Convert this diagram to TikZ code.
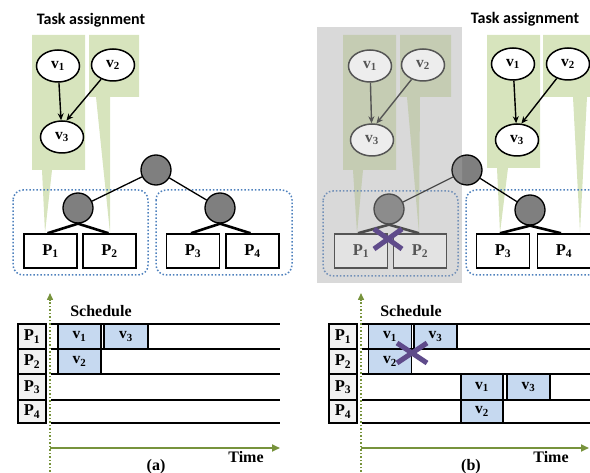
\documentclass[tikz,border=0pt]{standalone}
\usepackage{fontspec}
\setmainfont{Liberation Serif}
\newfontfamily\calib{Carlito}
\usetikzlibrary{shapes.geometric,arrows.meta}
\definecolor{cgreen}{HTML}{D7E4BD}
\definecolor{dgreen}{HTML}{C5CCB3}
\definecolor{tgray}{HTML}{7F7F7F}
\definecolor{dtgray}{HTML}{8C8C8C}
\definecolor{dblue}{HTML}{4F81BD}
\definecolor{ddblue}{HTML}{7290B8}
\definecolor{sblue}{HTML}{C6D9F0}
\definecolor{olive}{HTML}{77933C}
\definecolor{xpurple}{HTML}{5F4B8B}
\definecolor{bgshade}{HTML}{D9D9D9}
\definecolor{dimline}{HTML}{555555}
\newcommand{\myvf}{\fontsize{15.5}{17}\selectfont\bfseries}
\newcommand{\mypf}{\fontsize{16.5}{18}\selectfont\bfseries}
\newcommand{\myhf}{\fontsize{16}{18}\selectfont\bfseries}
\newcommand{\mytf}{\calib\fontsize{16}{18}\selectfont\bfseries}
\tikzset{
  task/.style={ellipse, draw, line width=1.5pt, fill=white, minimum width=43pt, minimum height=32pt, inner sep=0pt, font=\myvf},
  dtask/.style={task, draw=dimline, fill=black!7, text=dimline},
  tnode/.style={circle, draw, fill=tgray, minimum size=30pt, inner sep=0pt, line width=1.3pt},
  dtnode/.style={tnode, draw=black!70, fill=dtgray},
  pbox/.style={draw, fill=white, line width=1.5pt, minimum width=53pt, minimum height=34pt, inner sep=0pt, font=\mypf},
  dpbox/.style={pbox, draw=dimline, fill=black!11, text=dimline},
  grp/.style={draw=dblue, dotted, line width=1.5pt, rounded corners=10pt},
  dgrp/.style={grp, draw=ddblue},
  slot/.style={draw, fill=sblue, line width=1.3pt, minimum height=25pt, inner sep=0pt, font=\myvf},
  plab/.style={draw, fill=black!5, line width=1.3pt, minimum width=28pt, inner sep=0pt, font=\mypf},
  dep/.style={-{Stealth[length=7pt,width=6pt]}, line width=1.4pt},
  ddep/.style={dep, draw=dimline},
  link/.style={line width=1.3pt},
  wedge/.style={line width=2.6pt},
  rowline/.style={line width=1.8pt},
  vaxis/.style={draw=olive, dotted, line width=1.5pt, -{Triangle[length=7pt,width=6pt]}},
  haxis/.style={draw=olive, line width=1.8pt, -{Triangle[length=8pt,width=7pt]}},
  xmark/.style={draw=xpurple, line width=5pt},
  lab/.style={font=\myhf, inner sep=0pt}
}
\begin{document}
\begin{tikzpicture}[x=1pt,y=-1pt]
\useasboundingbox (0,0) rectangle (590,473);
\clip (0,0) rectangle (590,473);

%%%%%%%%%%%%%%%% Panel (a) %%%%%%%%%%%%%%%%
\node[font=\mytf, inner sep=0pt] (ta) at (91,20) {Task assignment};
\fill[cgreen] (32,35) -- (85,35) -- (85,170) -- (52,170) -- (45,233) -- (42,170) -- (32,170) -- cycle;
\fill[cgreen] (89,35) -- (139,35) -- (139,97) -- (110,97) -- (110,233) -- (96,97) -- (89,97) -- cycle;
\draw[grp] (13,190) rectangle (148,275);
\draw[grp] (156,190) rectangle (292,275);

\node[task] (v1a) at (58,66) {v\textsubscript{1}};
\node[task] (v2a) at (113,65) {v\textsubscript{2}};
\node[task] (v3a) at (62,137) {v\textsubscript{3}};
\draw[dep] (v1a) -- (v3a);
\draw[dep] (v2a) -- (v3a.75);

\node[tnode] (ra) at (156,170) {};
\node[tnode] (la) at (78,208) {};
\node[tnode] (rca) at (220,208) {};
\node[pbox] (p1a) at (50.5,251) {P\textsubscript{1}};
\node[pbox] (p2a) at (109.5,251) {P\textsubscript{2}};
\node[pbox] (p3a) at (193,251) {P\textsubscript{3}};
\node[pbox] (p4a) at (252.5,251) {P\textsubscript{4}};
\draw[link] (ra) -- (la);
\draw[link] (ra) -- (rca);
\draw[wedge] (la.south) -- ([xshift=-3pt]p1a.north);
\draw[wedge] (la.south) -- ([xshift=-1pt]p2a.north);
\draw[wedge] (rca.south) -- ([xshift=-2pt]p3a.north);
\draw[wedge] (rca.south) -- ([xshift=-2pt]p4a.north);

% schedule (a)
\coordinate (oya) at (50,472);
\coordinate (tya) at (50,293);
\draw[vaxis] (oya) -- (tya);
\coordinate (oxa) at (50,448);
\coordinate (txa) at (280,448);
\draw[haxis] (oxa) -- (txa);
\node[lab] (scha) at (101,311) {Schedule};
\node[lab] (timea) at (246,457) {Time};
\node[lab] (capa) at (156,467) {(a)};
\foreach \y in {324,349,374,400,423} \draw[rowline] (51,\y) -- (280,\y);
\node[plab, minimum height=25pt] (l1a) at (32,336.5) {P\textsubscript{1}};
\node[plab, minimum height=25pt] (l2a) at (32,361.5) {P\textsubscript{2}};
\node[plab, minimum height=26pt] (l3a) at (32,387) {P\textsubscript{3}};
\node[plab, minimum height=23pt] (l4a) at (32,411.5) {P\textsubscript{4}};
\node[slot, minimum width=43pt] (s1a) at (79.5,336.5) {v\textsubscript{1}};
\node[slot, minimum width=44pt] (s3a) at (126,336.5) {v\textsubscript{3}};
\node[slot, minimum width=43pt] (s2a) at (79.5,361.5) {v\textsubscript{2}};

%%%%%%%%%%%%%%%% Panel (b) %%%%%%%%%%%%%%%%
\fill[bgshade] (317,27) rectangle (462,283);
\fill[dgreen] (343,35) -- (396,35) -- (396,170) -- (363,170) -- (357,233) -- (353,170) -- (343,170) -- cycle;
\fill[dgreen] (400,35) -- (451,35) -- (451,97) -- (420,97) -- (419,233) -- (407,97) -- (400,97) -- cycle;
\fill[cgreen] (487,35) -- (540,35) -- (540,168) -- (508,168) -- (500,233) -- (497,168) -- (487,168) -- cycle;
\fill[cgreen] (543,35) -- (600,35) -- (600,97) -- (587,97) -- (580,232) -- (573,97) -- (543,97) -- cycle;
\node[font=\mytf, inner sep=0pt] (tb) at (525,19) {Task assignment};
\draw[dgrp] (323,191) rectangle (458,276);
\draw[grp] (466,190) rectangle (603,275);

\node[dtask] (v1b) at (370,66) {v\textsubscript{1}};
\node[dtask] (v2b) at (423,65) {v\textsubscript{2}};
\node[dtask] (v3b) at (372,140) {v\textsubscript{3}};
\draw[ddep] (v1b) -- (v3b);
\draw[ddep] (v2b) -- (v3b.75);

\node[task] (v1c) at (513,64) {v\textsubscript{1}};
\node[task] (v2c) at (568,64) {v\textsubscript{2}};
\node[task] (v3c) at (517,140) {v\textsubscript{3}};
\draw[dep] (v1c) -- (v3c);
\draw[dep] (v2c) -- (v3c.75);

\node[tnode] (rb) at (467,170) {};
\begin{scope}
  \clip (317,27) rectangle (462,283);
  \fill[white, opacity=0.12] (467,170) circle (15.5);
\end{scope}
\node[dtnode] (lb) at (389,209) {};
\node[tnode] (rcb) at (530,210) {};
\node[dpbox] (p1b) at (361,251) {P\textsubscript{1}};
\node[dpbox] (p2b) at (420,251) {P\textsubscript{2}};
\node[pbox] (p3b) at (503,251) {P\textsubscript{3}};
\node[pbox] (p4b) at (564,251) {P\textsubscript{4}};
\draw[link, draw=black!70] (rb) -- (lb);
\draw[link] (rb) -- (rcb);
\draw[wedge, draw=black!70] (lb.south) -- ([xshift=-3pt]p1b.north);
\draw[wedge, draw=black!70] (lb.south) -- ([xshift=-1pt]p2b.north);
\draw[wedge] (rcb.south) -- ([xshift=-3pt]p3b.north);
\draw[wedge] (rcb.south) -- ([xshift=-3pt]p4b.north);
\draw[xmark] (374,229) -- (402,249) (374,249) -- (402,229);

% schedule (b)
\coordinate (oyb) at (361,472);
\coordinate (tyb) at (361,293);
\draw[vaxis] (oyb) -- (tyb);
\coordinate (oxb) at (361,448);
\coordinate (txb) at (589,448);
\draw[haxis] (oxb) -- (txb);
\node[lab] (schb) at (411,311) {Schedule};
\node[lab] (timeb) at (551,457) {Time};
\node[lab] (capb) at (471,467) {(b)};
\foreach \y in {324,349,374,400,423} \draw[rowline] (362,\y) -- (592,\y);
\node[plab, minimum height=25pt] (l1b) at (343,336.5) {P\textsubscript{1}};
\node[plab, minimum height=25pt] (l2b) at (343,361.5) {P\textsubscript{2}};
\node[plab, minimum height=26pt] (l3b) at (343,387) {P\textsubscript{3}};
\node[plab, minimum height=23pt] (l4b) at (343,411.5) {P\textsubscript{4}};
\node[slot, minimum width=43pt] (s1b) at (390,336.5) {v\textsubscript{1}};
\node[slot, minimum width=43pt] (s3b) at (435.5,336.5) {v\textsubscript{3}};
\node[slot, minimum width=43pt] (s2b) at (390,361.5) {v\textsubscript{2}};
\node[slot, minimum width=42pt, minimum height=26pt] (s4b) at (482,387) {v\textsubscript{1}};
\node[slot, minimum width=43pt, minimum height=26pt] (s5b) at (528.5,387) {v\textsubscript{3}};
\node[slot, minimum width=42pt, minimum height=23pt] (s6b) at (482,411.5) {v\textsubscript{2}};
\draw[xmark] (397,343) -- (427,363) (397,363) -- (427,343);
\end{tikzpicture}
\end{document}
